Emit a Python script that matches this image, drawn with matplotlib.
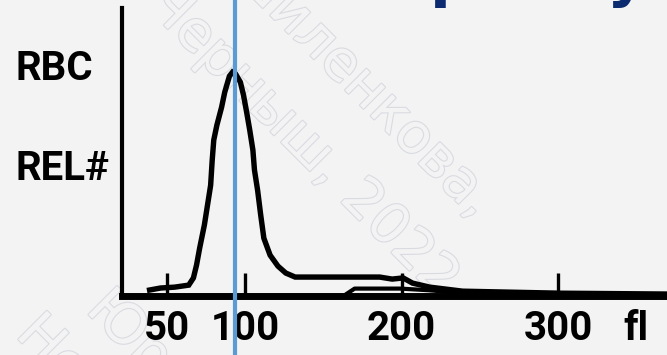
import matplotlib
matplotlib.use("Agg")
import matplotlib.pyplot as plt
import matplotlib.patheffects as pe
from matplotlib.lines import Line2D
from matplotlib.transforms import blended_transform_factory

# RBC histogram, volume in fl vs relative count (0..100 = top of y axis)
vol_fl = [39, 46, 55, 64, 67, 69, 71, 74, 76, 78, 79, 80, 82, 85, 87, 90, 92,
          94, 97, 99, 101, 103, 105, 106, 108, 110, 112, 116, 121, 126, 132,
          186, 194, 201, 207, 218, 239, 301, 370]
rel_count = [2.1, 2.8, 3.1, 3.8, 6.3, 10.8, 16.7, 24.7, 31.6, 38.5, 47.2,
             54.2, 59.4, 65.6, 70.8, 76.4, 77.8, 77.1, 74.3, 69.8, 63.9, 57.6,
             50.7, 43.8, 36.8, 28.1, 20.1, 14.2, 10.4, 8.0, 6.6, 6.6, 5.9, 6.3,
             4.5, 3.1, 1.7, 1.0, 0.7]

# second (lower) trace of the tail
tail_fl = [165, 170, 199, 218, 239]
tail_count = [0.8, 2.6, 2.6, 2.0, 1.0]

tick_vals = [50, 100, 200, 300]
tick_labels = ["50", "100", "200", "300"]
unit_label = "fl"
mcv_marker = 93.6

BG = "#f3f3f3"
NAVY = "#0b2a6f"
BLUE = "#5b9bd5"
WM = "#d9dbe1"

fig = plt.figure(figsize=(6.67, 3.55), dpi=100, facecolor=BG)
ax = fig.add_axes([0.183, 0.166, 0.817, 0.811])
ax.set_facecolor("none")

ax.plot(vol_fl, rel_count, color="black", lw=3.9, solid_joinstyle="miter", zorder=3)
ax.plot(tail_fl, tail_count, color="black", lw=3.0, zorder=3)

# small tick marks standing on the axis
ax.vlines(tick_vals, 0, 8, color="black", lw=2.4, zorder=3)

ax.set_xlim(21.4, 369.6)
ax.set_ylim(0, 100)
for s in ["top", "right"]:
    ax.spines[s].set_visible(False)
ax.spines["left"].set_linewidth(3.0)
ax.spines["bottom"].set_linewidth(5.0)
ax.set_xticks([])
ax.set_yticks([])

lab_font = dict(family=["Roboto", "DejaVu Sans"], fontweight="bold", fontsize=29, color="black")
for v, t in zip(tick_vals, tick_labels):
    ax.text(v, -11.5, t, ha="center", va="center", clip_on=False, **lab_font)
ax.text(350, -11.5, unit_label, ha="center", va="center", clip_on=False, **lab_font)

fig.text(15 / 667, 1 - 69 / 355, "RBC", ha="left", va="center", **lab_font)
fig.text(15 / 667, 1 - 169 / 355, "REL#", ha="left", va="center", **lab_font)

# blue vertical marker over the full height
tr = blended_transform_factory(ax.transData, fig.transFigure)
fig.add_artist(Line2D([mcv_marker, mcv_marker], [0, 1], transform=tr,
                      color=BLUE, lw=3.0, zorder=10))

# descenders of the cut-off title (only the tails show under the top edge)
title_font = dict(family=["DejaVu Sans"], fontweight="bold", fontsize=44, color=NAVY)
fig.text(452 / 667, 1 + 5 / 355, "р", ha="center", va="baseline", **title_font)
fig.text(626 / 667, 1 + 5 / 355, "у", ha="center", va="baseline", **title_font)

# hollow watermark
wm = dict(family=["DejaVu Sans"], fontsize=40, color=BG, rotation=-45,
          rotation_mode="anchor", zorder=-1,
          path_effects=[pe.Stroke(linewidth=1.6, foreground=WM), pe.Normal()])
fig.text(302 / 667, 1 - 142 / 355, "Черныш, 2022", ha="center", va="center", **wm)
fig.text(360 / 667, 1 - 84 / 355, "Шиленкова,", ha="center", va="center", **wm)
fig.text(95 / 667, 1 - 300 / 355, "Юр", ha="left", va="center", **wm)
fig.text(25 / 667, 1 - 325 / 355, "Не", ha="left", va="center", **wm)

fig.savefig("out.png", dpi=100, facecolor=BG)
